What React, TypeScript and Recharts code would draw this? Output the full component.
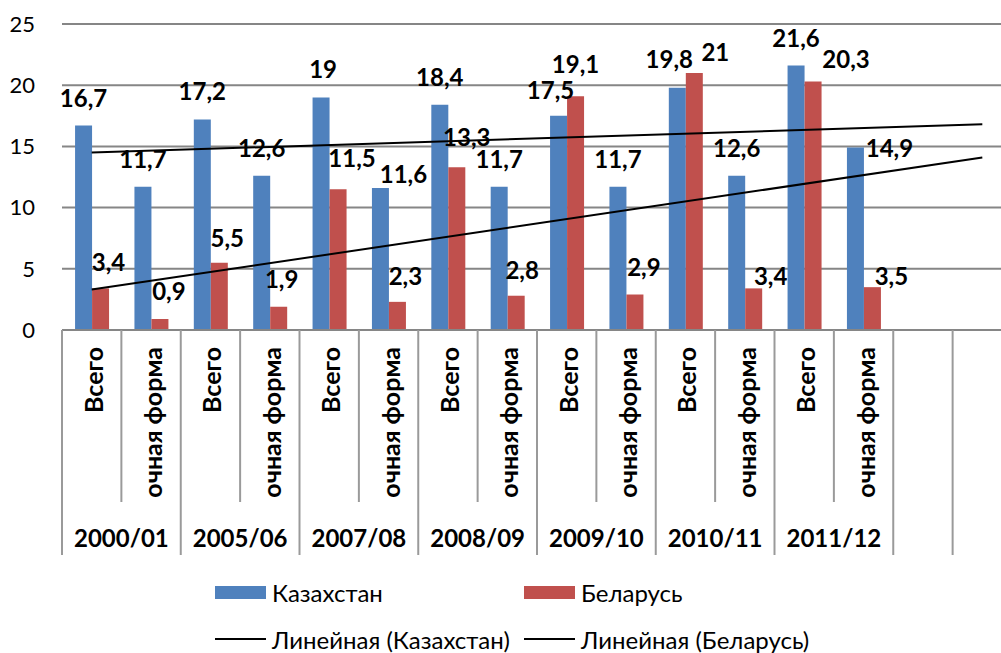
import React from 'react';
import { ComposedChart, Bar, Line, XAxis, YAxis, CartesianGrid, LabelList, Legend } from 'recharts';

const years = ['2000/01', '2005/06', '2007/08', '2008/09', '2009/10', '2010/11', '2011/12'];
const forms = ['Всего', 'очная форма'];
const kazakhstan = [16.7, 11.7, 17.2, 12.6, 19, 11.6, 18.4, 11.7, 17.5, 11.7, 19.8, 12.6, 21.6, 14.9];
const belarus = [3.4, 0.9, 5.5, 1.9, 11.5, 2.3, 13.3, 2.8, 19.1, 2.9, 21, 3.4, 20.3, 3.5];
// linear trend ends: first category and 2 periods forward
const kazakhstanTrend = [14.5, 16.8];
const belarusTrend = [3.3, 14.1];
const yTicks = [0, 5, 10, 15, 20, 25];
const emptySlots = 2;

const BLUE = '#4F81BD';
const RED = '#C0504D';
const GRID = '#868686';

// hand-moved data labels in the original (dx, dy in px)
const kzNudge = [[0, 0], [0, 0], [0, 0], [0, 0], [2, 0], [23, 14], [0, 0], [0, 0], [-8, 2], [0, 0], [-8, -1], [0, 0], [0, 0], [34, 28]];
const byNudge = [[8, 2], [9, 0], [8, 3], [3, 0], [14, -3], [8, 2], [10, -2], [6, 2], [0, -4], [9, 0], [21, 7], [17, 16], [33, 5], [19, 17]];

type Row = { cat: string; year: string; kz: number | null; by: number | null; kzTrend?: number; byTrend?: number };

const rows: Row[] = [];
years.forEach((year, i) => {
  forms.forEach((form, j) => {
    const k = i * forms.length + j;
    rows.push({ cat: form, year: j === 0 ? year : '', kz: kazakhstan[k], by: belarus[k] });
  });
});
for (let e = 0; e < emptySlots; e++) rows.push({ cat: '', year: '', kz: null, by: null });
rows[0].kzTrend = kazakhstanTrend[0];
rows[0].byTrend = belarusTrend[0];
rows[rows.length - 1].kzTrend = kazakhstanTrend[1];
rows[rows.length - 1].byTrend = belarusTrend[1];

const CHART_W = 1020;
const CHART_H = 653;
const PLOT_LEFT = 62;
const PLOT_W = 950;
const SLOT = PLOT_W / rows.length;

const AxisTick = (props: any) => {
  const { x, y, payload } = props;
  const i = props.index ?? payload.index;
  const row = rows[i];
  if (!row) return null;
  const left = x - SLOT / 2;
  const groupStart = row.cat !== forms[1];
  return (
    <g>
      <line x1={left} y1={y} x2={left} y2={y + (groupStart ? 225 : 172)} stroke="#9a9a9a" strokeWidth={2} />
      {i === rows.length - 1 && (
        <line x1={x + SLOT / 2} y1={y} x2={x + SLOT / 2} y2={y + 225} stroke="#9a9a9a" strokeWidth={2} />
      )}
      {row.cat && (
        <text
          transform={`translate(${x + 11},${y + 17}) rotate(-90)`}
          textAnchor="end"
          fontSize={25}
          fontWeight="bold"
          fill="#000"
        >
          {row.cat}
        </text>
      )}
      {row.year && (
        <text x={x + SLOT / 2} y={y + 217} textAnchor="middle" fontSize={24} fontWeight="bold" fill="#000">
          {row.year}
        </text>
      )}
    </g>
  );
};

const makeLabel = (nudge: number[][]) => (props: any) => {
  const { x, y, width, value, index } = props;
  if (value == null) return null;
  const [dx, dy] = nudge[index] || [0, 0];
  return (
    <text x={x + width / 2 + dx} y={y - 19 + dy} textAnchor="middle" fontSize={24} fontWeight="bold" fill="#000">
      {String(value).replace('.', ',')}
    </text>
  );
};

const legendItems = [
  { name: 'Казахстан', color: BLUE, kind: 'box', left: 215, top: 3 },
  { name: 'Беларусь', color: RED, kind: 'box', left: 524, top: 3 },
  { name: 'Линейная (Казахстан)', color: '#000', kind: 'line', left: 215, top: 50 },
  { name: 'Линейная (Беларусь)', color: '#000', kind: 'line', left: 524, top: 50 },
];

const renderLegend = () => (
  <div style={{ position: 'relative', width: 1001, height: 80 }}>
    {legendItems.map((it) => (
      <div
        key={it.name}
        style={{ position: 'absolute', left: it.left, top: it.top, height: 28, display: 'flex', alignItems: 'center', whiteSpace: 'nowrap' }}
      >
        {it.kind === 'box' ? (
          <span style={{ display: 'inline-block', width: 51, height: 13, background: it.color }} />
        ) : (
          <span style={{ display: 'inline-block', width: 51, height: 2, background: it.color }} />
        )}
        <span style={{ marginLeft: 6, fontSize: 24, color: '#000' }}>{it.name}</span>
      </div>
    ))}
  </div>
);

export default function App() {
  return (
    <div
      style={{
        position: 'absolute',
        left: 0,
        top: 0,
        width: 1001,
        height: 653,
        overflow: 'hidden',
        background: '#fff',
        fontFamily: 'Lato, "Open Sans", sans-serif',
      }}
    >
      <ComposedChart
        width={CHART_W}
        height={CHART_H}
        data={rows}
        margin={{ top: 24, right: CHART_W - PLOT_LEFT - PLOT_W, left: 0, bottom: 0 }}
        barCategoryGap="22%"
        barGap={0}
      >
        <CartesianGrid vertical={false} stroke={GRID} strokeWidth={2} />
        <YAxis
          width={PLOT_LEFT}
          domain={[0, 25]}
          ticks={yTicks}
          interval={0}
          axisLine={false}
          tickLine={false}
          tickSize={0}
          tickMargin={27}
          tick={{ fontSize: 22, fill: '#000' }}
        />
        <XAxis
          dataKey="cat"
          interval={0}
          height={CHART_H - 24 - 306}
          tickSize={0}
          tickMargin={0}
          tickLine={false}
          axisLine={{ stroke: GRID, strokeWidth: 2 }}
          tick={<AxisTick />}
        />
        <Bar dataKey="kz" name="Казахстан" fill={BLUE} isAnimationActive={false}>
          <LabelList dataKey="kz" content={makeLabel(kzNudge)} />
        </Bar>
        <Bar dataKey="by" name="Беларусь" fill={RED} isAnimationActive={false}>
          <LabelList dataKey="by" content={makeLabel(byNudge)} />
        </Bar>
        <Line dataKey="kzTrend" stroke="#000" strokeWidth={2} dot={false} activeDot={false} connectNulls isAnimationActive={false} legendType="none" />
        <Line dataKey="byTrend" stroke="#000" strokeWidth={2} dot={false} activeDot={false} connectNulls isAnimationActive={false} legendType="none" />
        <Legend verticalAlign="middle" content={renderLegend} wrapperStyle={{ left: 0, top: 575, width: 1001, height: 80 }} />
      </ComposedChart>
    </div>
  );
}
